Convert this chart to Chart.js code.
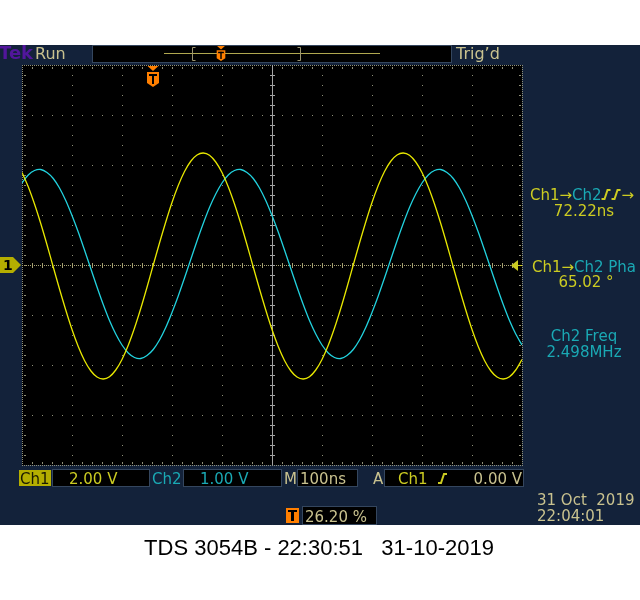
<!DOCTYPE html>
<html>
<head>
<meta charset="utf-8">
<title>TDS 3054B</title>
<script src="https://cdn.jsdelivr.net/npm/chart.js@4/dist/chart.umd.min.js"></script>
<style>
  html, body { margin: 0; padding: 0; background: #fff; }
  canvas { display: block; }
</style>
</head>
<body>
<canvas id="scope" width="640" height="600"></canvas>
<script>
// Sample times across the screen (ns from left edge, 100 ns/div)
const timeNs = [
  0, 12.5, 25, 37.5, 50, 62.5, 75, 87.5,
  100, 112.5, 125, 137.5, 150, 162.5, 175, 187.5,
  200, 212.5, 225, 237.5, 250, 262.5, 275, 287.5,
  300, 312.5, 325, 337.5, 350, 362.5, 375, 387.5,
  400, 412.5, 425, 437.5, 450, 462.5, 475, 487.5,
  500, 512.5, 525, 537.5, 550, 562.5, 575, 587.5,
  600, 612.5, 625, 637.5, 650, 662.5, 675, 687.5,
  700, 712.5, 725, 737.5, 750, 762.5, 775, 787.5,
  800, 812.5, 825, 837.5, 850, 862.5, 875, 887.5,
  900, 912.5, 925, 937.5, 950, 962.5, 975, 987.5,
  1000
];

// Ch1 (yellow) volts, 2.00 V/div
const ch1Volts = [
  3.70, 3.13, 2.44, 1.66, 0.81, -0.08, -0.96, -1.80,
  -2.58, -3.26, -3.82, -4.23, -4.48, -4.56, -4.47, -4.20,
  -3.78, -3.21, -2.52, -1.74, -0.89, 0.00, 0.88, 1.72,
  2.50, 3.18, 3.74, 4.15, 4.40, 4.48, 4.39, 4.12,
  3.70, 3.13, 2.44, 1.66, 0.81, -0.08, -0.96, -1.80,
  -2.58, -3.26, -3.82, -4.23, -4.48, -4.56, -4.47, -4.20,
  -3.78, -3.21, -2.52, -1.74, -0.89, 0.00, 0.88, 1.72,
  2.50, 3.18, 3.74, 4.15, 4.40, 4.48, 4.39, 4.12,
  3.70, 3.13, 2.44, 1.66, 0.81, -0.08, -0.96, -1.80,
  -2.58, -3.26, -3.82, -4.23, -4.48, -4.56, -4.47, -4.20,
  -3.78
];

// Ch2 (cyan) volts, 1.00 V/div
const ch2Volts = [
  1.64, 1.80, 1.89, 1.91, 1.85, 1.73, 1.54, 1.29,
  0.99, 0.66, 0.30, -0.07, -0.44, -0.79, -1.11, -1.38,
  -1.60, -1.76, -1.85, -1.87, -1.81, -1.69, -1.50, -1.25,
  -0.95, -0.62, -0.26, 0.11, 0.48, 0.83, 1.15, 1.42,
  1.64, 1.80, 1.89, 1.91, 1.85, 1.73, 1.54, 1.29,
  0.99, 0.66, 0.30, -0.07, -0.44, -0.79, -1.11, -1.38,
  -1.60, -1.76, -1.85, -1.87, -1.81, -1.69, -1.50, -1.25,
  -0.95, -0.62, -0.26, 0.11, 0.48, 0.83, 1.15, 1.42,
  1.64, 1.80, 1.89, 1.91, 1.85, 1.73, 1.54, 1.29,
  0.99, 0.66, 0.30, -0.07, -0.44, -0.79, -1.11, -1.38,
  -1.60
];

// Graticule divisions
const xDivNs = [0, 100, 200, 300, 400, 500, 600, 700, 800, 900, 1000];
const yDivV = [-8, -6, -4, -2, 0, 2, 4, 6, 8];
const triggerNs = 262;   // 26.20 % of record
const triggerLevelV = 0;

const FONT = '"DejaVu Sans", sans-serif';
const C = {
  navy: '#13223a',
  ch1: '#e8e800',
  ch2: '#22d2de',
  ch1Text: '#cccc22',
  ch2Text: '#1aa9b4',
  khaki: '#c9c28f',
  orange: '#ff7f00',
  dots: '#8f8f78',
  olive: '#b4ae00'
};

function edgeSymbol(ctx, x, y, color) {
  ctx.save();
  ctx.strokeStyle = color;
  ctx.lineWidth = 2;
  ctx.beginPath();
  ctx.moveTo(x, y - 1);
  ctx.lineTo(x + 3, y - 1);
  ctx.lineTo(x + 6, y - 10);
  ctx.lineTo(x + 9, y - 10);
  ctx.stroke();
  ctx.restore();
}

function drawRuns(ctx, runs, cx, y) {
  ctx.font = '15px ' + FONT;
  let total = 0;
  runs.forEach(r => { total += r.edge ? 10 : ctx.measureText(r.t).width; });
  let x = cx - total / 2;
  runs.forEach(r => {
    if (r.edge) { edgeSymbol(ctx, x, y, r.c); x += 10; return; }
    ctx.fillStyle = r.c;
    ctx.fillText(r.t, x, y);
    x += ctx.measureText(r.t).width;
  });
}

function text(ctx, s, x, y, color, size, align) {
  ctx.font = (size || 15) + 'px ' + FONT;
  ctx.fillStyle = color;
  ctx.textAlign = align || 'left';
  ctx.fillText(s, x, y);
  ctx.textAlign = 'left';
}

function box(ctx, x, y, w, h) {
  ctx.fillStyle = '#000';
  ctx.fillRect(x, y, w, h);
  ctx.strokeStyle = '#34465e';
  ctx.lineWidth = 1;
  ctx.strokeRect(x + 0.5, y + 0.5, w - 1, h - 1);
}

function triggerT(ctx, cx, top, s) {
  // orange pointer + shield with a T
  ctx.fillStyle = C.orange;
  ctx.beginPath();
  ctx.moveTo(cx - 5.5 * s, top);
  ctx.lineTo(cx + 5.5 * s, top);
  ctx.lineTo(cx, top + 5 * s);
  ctx.closePath();
  ctx.fill();
  const t = top + 6 * s;
  ctx.beginPath();
  ctx.moveTo(cx - 6 * s, t);
  ctx.lineTo(cx + 6 * s, t);
  ctx.lineTo(cx + 6 * s, t + 11 * s);
  ctx.lineTo(cx, t + 15 * s);
  ctx.lineTo(cx - 6 * s, t + 11 * s);
  ctx.closePath();
  ctx.fill();
  ctx.fillStyle = '#000';
  ctx.fillRect(cx - 4 * s, t + 2 * s, 8 * s, 2 * s);
  ctx.fillRect(cx - 1 * s, t + 2 * s, 2 * s, 10 * s);
}

const screenPlugin = {
  id: 'screen',
  beforeDraw(chart) {
    const ctx = chart.ctx;
    const a = chart.chartArea;
    ctx.save();
    ctx.fillStyle = '#fff';
    ctx.fillRect(0, 0, chart.width, chart.height);
    ctx.fillStyle = C.navy;
    ctx.fillRect(0, 45, 640, 480);
    ctx.fillStyle = '#000';
    ctx.fillRect(a.left, a.top, a.right - a.left, a.bottom - a.top);

    // top bar
    ctx.font = 'bold 18px ' + FONT;
    ctx.fillStyle = '#52169c';
    ctx.fillText('Tek', -1, 59);
    text(ctx, 'Run', 35, 59, C.khaki, 16);
    box(ctx, 92, 45, 360, 18);
    ctx.fillStyle = '#b0a850';
    ctx.fillRect(164, 53, 216, 1);
    ctx.strokeStyle = '#9a9470';
    ctx.lineWidth = 1;
    ctx.beginPath();
    ctx.moveTo(195.5, 47.5); ctx.lineTo(192.5, 47.5); ctx.lineTo(192.5, 60.5); ctx.lineTo(195.5, 60.5);
    ctx.moveTo(297.5, 47.5); ctx.lineTo(300.5, 47.5); ctx.lineTo(300.5, 60.5); ctx.lineTo(297.5, 60.5);
    ctx.stroke();
    triggerT(ctx, 221, 46, 0.72);
    text(ctx, 'Trig\u2019d', 456, 59, C.khaki, 16);

    // bottom status bar
    ctx.fillStyle = C.olive;
    ctx.fillRect(19, 470, 32, 16);
    text(ctx, 'Ch1', 20, 484, '#1a1a00', 15);
    box(ctx, 52, 469, 98, 18);
    text(ctx, '2.00 V', 69, 484, C.ch1Text);
    text(ctx, 'Ch2', 152, 484, C.ch2Text);
    box(ctx, 183, 469, 99, 18);
    text(ctx, '1.00 V', 200, 484, C.ch2Text);
    text(ctx, 'M', 284, 484, C.khaki);
    box(ctx, 297, 469, 61, 18);
    text(ctx, '100ns', 300, 484, C.khaki);
    text(ctx, 'A', 373, 484, C.khaki);
    box(ctx, 384, 469, 140, 18);
    text(ctx, 'Ch1', 398, 484, C.ch1Text);
    edgeSymbol(ctx, 438, 484, C.ch1Text);
    text(ctx, '0.00 V', 522, 484, C.khaki, 15, 'right');

    text(ctx, '31 Oct  2019', 537, 505, C.khaki);
    text(ctx, '22:04:01', 537, 521, C.khaki);
    ctx.fillStyle = C.orange;
    ctx.fillRect(286, 508, 13, 15);
    ctx.fillStyle = '#000';
    ctx.fillRect(288, 510, 9, 2);
    ctx.fillRect(291, 510, 3, 11);
    box(ctx, 302, 506, 75, 19);
    text(ctx, '26.20 %', 305, 522, C.khaki);

    // caption under the screen
    ctx.font = '22px "Liberation Sans", Arial, sans-serif';
    ctx.fillStyle = '#000';
    ctx.textAlign = 'center';
    ctx.fillText('TDS 3054B - 22:30:51   31-10-2019', 319, 555);
    ctx.restore();
  },
  beforeDatasetsDraw(chart) {
    const ctx = chart.ctx;
    const sx = chart.scales.x, sy = chart.scales.y;
    const xs = xDivNs.map(v => Math.round(sx.getPixelForValue(v)));
    const ys = yDivV.map(v => Math.round(sy.getPixelForValue(v)));
    const left = xs[0], right = xs[xs.length - 1];
    const bottom = ys[0], top = ys[ys.length - 1];
    const subX = (right - left) / 50, subY = (bottom - top) / 40;
    const cx = xs[5], cy = ys[4];
    ctx.save();
    ctx.fillStyle = C.dots;
    // interior grid dots
    xs.forEach((x, i) => {
      if (i === 0 || i === xs.length - 1 || i === 5) return;
      for (let j = 1; j < 40; j++) ctx.fillRect(x, Math.round(top + j * subY), 1, 1);
    });
    ys.forEach((y, i) => {
      if (i === 0 || i === ys.length - 1 || i === 4) return;
      for (let j = 1; j < 50; j++) ctx.fillRect(Math.round(left + j * subX), y, 1, 1);
    });
    // border: fine dotted edge with inward ticks
    for (let x = left; x <= right; x += 2) {
      ctx.fillRect(x, top, 1, 1);
      ctx.fillRect(x, bottom, 1, 1);
    }
    for (let y = top; y <= bottom; y += 2) {
      ctx.fillRect(left, y, 1, 1);
      ctx.fillRect(right, y, 1, 1);
    }
    for (let j = 1; j < 50; j++) {
      const x = Math.round(left + j * subX);
      ctx.fillRect(x, top + 2, 1, 2);
      ctx.fillRect(x, bottom - 3, 1, 2);
    }
    for (let j = 1; j < 40; j++) {
      const y = Math.round(top + j * subY);
      ctx.fillRect(left + 2, y, 2, 1);
      ctx.fillRect(right - 3, y, 2, 1);
    }
    // centre horizontal: dotted khaki with ticks
    ctx.fillStyle = '#a8a273';
    for (let x = left; x <= right; x += 2) ctx.fillRect(x, cy, 1, 1);
    for (let j = 1; j < 50; j++) ctx.fillRect(Math.round(left + j * subX), cy - 2, 1, 5);
    // centre vertical: solid grey with ticks
    ctx.fillStyle = '#a4a4a4';
    ctx.fillRect(cx, top, 1, bottom - top);
    for (let j = 1; j < 40; j++) ctx.fillRect(cx - 2, Math.round(top + j * subY), 5, 1);
    ctx.restore();
  },
  afterDatasetsDraw(chart) {
    const ctx = chart.ctx;
    const a = chart.chartArea;
    const sx = chart.scales.x, sy = chart.scales.y;
    ctx.save();
    // trigger position marker
    triggerT(ctx, Math.round(sx.getPixelForValue(triggerNs)), a.top + 1, 1);
    // Ch1 ground marker at left
    const gy = Math.round(sy.getPixelForValue(0));
    ctx.fillStyle = C.olive;
    ctx.beginPath();
    ctx.moveTo(0, gy - 8);
    ctx.lineTo(13, gy - 8);
    ctx.lineTo(a.left - 1, gy);
    ctx.lineTo(13, gy + 8);
    ctx.lineTo(0, gy + 8);
    ctx.closePath();
    ctx.fill();
    ctx.font = 'bold 14px ' + FONT;
    ctx.fillStyle = '#000';
    ctx.fillText('1', 3, gy + 5);
    // trigger level marker at right
    const ty = Math.round(sy.getPixelForValue(triggerLevelV));
    ctx.fillStyle = C.ch1Text;
    ctx.beginPath();
    ctx.moveTo(a.right - 11, ty + 0.5);
    ctx.lineTo(a.right - 4, ty - 5);
    ctx.lineTo(a.right - 4, ty + 6);
    ctx.closePath();
    ctx.fill();
    ctx.fillRect(a.right - 4, ty, 4, 1);

    // measurement readouts
    const mx = 582;
    drawRuns(ctx, [{ t: 'Ch1\u2192', c: C.ch1Text }, { t: 'Ch2', c: C.ch2Text },
      { edge: true, c: C.ch1Text }, { edge: true, c: C.ch1Text }, { t: '\u2192', c: C.ch1Text }], mx, 200);
    drawRuns(ctx, [{ t: '72.22ns', c: C.ch1Text }], mx + 2, 216);
    drawRuns(ctx, [{ t: 'Ch1\u2192', c: C.ch1Text }, { t: 'Ch2 Pha', c: C.ch2Text }], 584, 272);
    drawRuns(ctx, [{ t: '65.02 \u00b0', c: C.ch1Text }], 586, 287);
    drawRuns(ctx, [{ t: 'Ch2 Freq', c: C.ch2Text }], 584, 341);
    drawRuns(ctx, [{ t: '2.498MHz', c: C.ch2Text }], 584, 357);
    ctx.restore();
  }
};

const ctx = document.getElementById('scope');
new Chart(ctx, {
  type: 'line',
  data: {
    datasets: [
      {
        label: 'Ch1',
        data: timeNs.map((t, i) => ({ x: t, y: ch1Volts[i] })),
        borderColor: C.ch1,
        borderWidth: 1.3,
        pointRadius: 0,
        tension: 0.3,
        yAxisID: 'y'
      },
      {
        label: 'Ch2',
        data: timeNs.map((t, i) => ({ x: t, y: ch2Volts[i] })),
        borderColor: C.ch2,
        borderWidth: 1.3,
        pointRadius: 0,
        tension: 0.3,
        yAxisID: 'y2'
      }
    ]
  },
  options: {
    responsive: false,
    animation: false,
    events: [],
    layout: { padding: { left: 22, top: 65, right: 118, bottom: 135 } },
    scales: {
      x: { type: 'linear', min: 0, max: 1000, display: false },
      y: { min: -8, max: 8, display: false },
      y2: { min: -4, max: 4, display: false }
    },
    plugins: { legend: { display: false }, tooltip: { enabled: false } }
  },
  plugins: [screenPlugin]
});
</script>
</body>
</html>
